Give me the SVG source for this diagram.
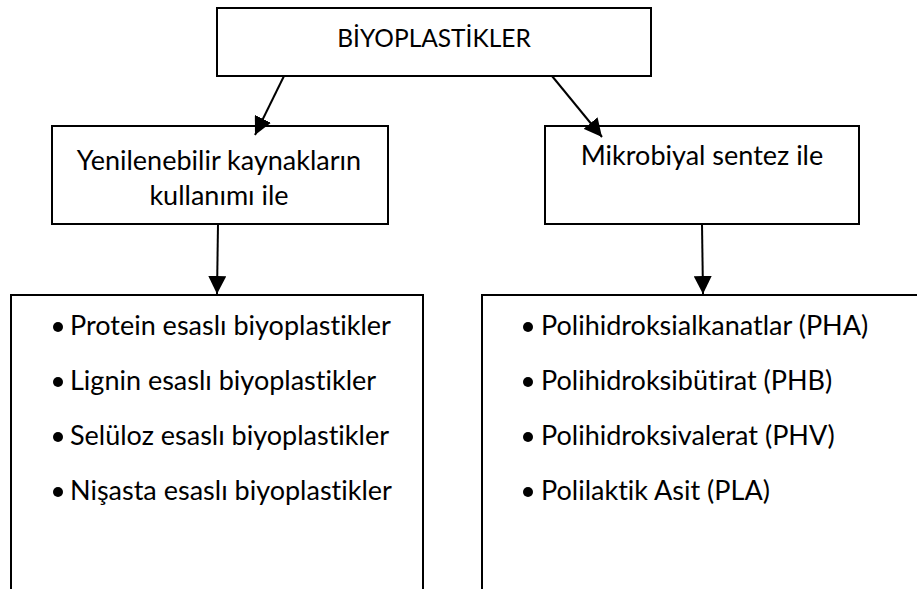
<svg xmlns="http://www.w3.org/2000/svg" width="917" height="589" viewBox="0 0 917 589">
<defs>
<marker id="ah" viewBox="0 0 10 10" refX="10" refY="5" markerWidth="9" markerHeight="9" markerUnits="strokeWidth" orient="auto">
<path d="M0,0 L10,5 L0,10 z" fill="#000"/>
</marker>
<style>
.box{fill:#fff;stroke:#000;stroke-width:2}
.t{font-family:Lato,"Open Sans","Noto Sans",sans-serif;font-size:27px;fill:#000;font-variant-ligatures:none}
.c{text-anchor:middle}
.conn{stroke:#000;stroke-width:2;fill:none;marker-end:url(#ah)}
</style>
</defs>
<rect width="917" height="589" fill="#fff"/>
<g id="n-root">
<rect class="box" x="217" y="8" width="434" height="68"/>
<text class="t c" x="434" y="47" style="font-size:24.5px">BİYOPLASTİKLER</text>
</g>
<g id="n-left">
<rect class="box" x="52" y="126" width="336" height="98"/>
<text class="t c" x="219" y="170">Yenilenebilir kaynakların</text>
<text class="t c" x="219" y="205">kullanımı ile</text>
</g>
<g id="n-right">
<rect class="box" x="545" y="126" width="314" height="98"/>
<text class="t c" x="702" y="165">Mikrobiyal sentez ile</text>
</g>
<g id="n-left-list">
<path class="box" d="M11,590 V295 H423 V590"/>
<circle cx="58" cy="327" r="5"/>
<circle cx="58" cy="382" r="5"/>
<circle cx="58" cy="437" r="5"/>
<circle cx="58" cy="492" r="5"/>
<text class="t" x="70" y="335">Protein esaslı biyoplastikler</text>
<text class="t" x="70" y="390">Lignin esaslı biyoplastikler</text>
<text class="t" x="70" y="445">Selüloz esaslı biyoplastikler</text>
<text class="t" x="70" y="500">Nişasta esaslı biyoplastikler</text>
</g>
<g id="n-right-list">
<path class="box" d="M482,590 V295 H918"/>
<circle cx="528" cy="327" r="5"/>
<circle cx="528" cy="382" r="5"/>
<circle cx="528" cy="437" r="5"/>
<circle cx="528" cy="492" r="5"/>
<text class="t" x="541" y="335">Polihidroksialkanatlar (PHA)</text>
<text class="t" x="541" y="390">Polihidroksibütirat (PHB)</text>
<text class="t" x="541" y="445">Polihidroksivalerat (PHV)</text>
<text class="t" x="541" y="500">Polilaktik Asit (PLA)</text>
</g>
<g id="connectors">
<line class="conn" x1="284" y1="76" x2="255" y2="135"/>
<line class="conn" x1="552" y1="76" x2="602" y2="137"/>
<line class="conn" x1="218" y1="224" x2="217" y2="294"/>
<line class="conn" x1="702" y1="224" x2="703" y2="294"/>
</g>
</svg>
